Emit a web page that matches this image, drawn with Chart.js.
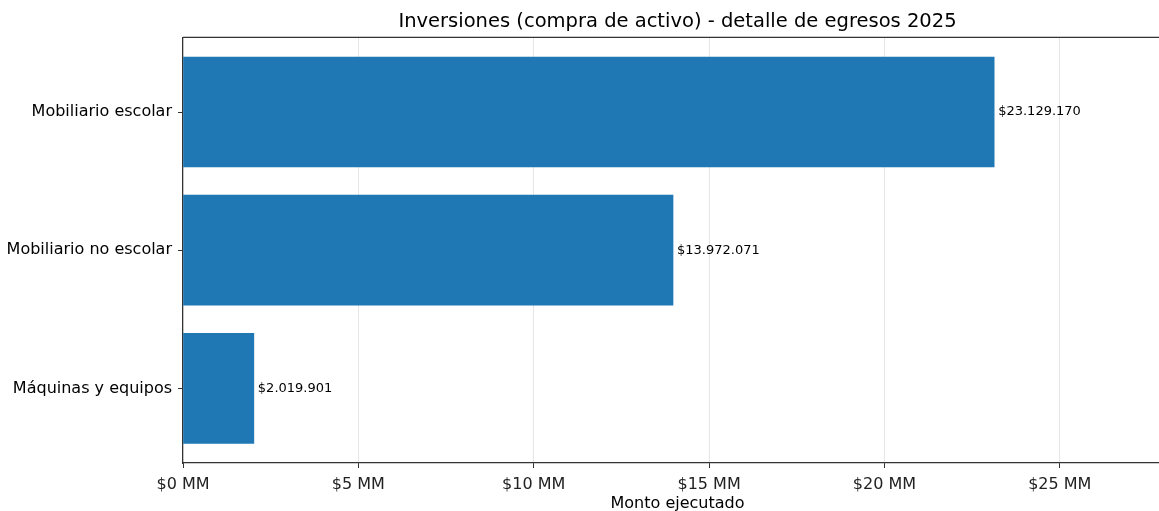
<!DOCTYPE html>
<html>
<head>
<meta charset="utf-8">
<script src="https://cdn.jsdelivr.net/npm/chart.js@4"></script>
<style>
  html, body { margin: 0; padding: 0; background: #fff; overflow: hidden; }
  #wrap { width: 1180px; height: 511px; position: relative; }
</style>
</head>
<body>
<div id="wrap"><canvas id="chart"></canvas></div>
<script>
const categories = ["Mobiliario escolar", "Mobiliario no escolar", "Máquinas y equipos"];
const amounts = [23129170, 13972071, 2019901];
const xTicks = [0, 5000000, 10000000, 15000000, 20000000, 25000000];

const FONT = "'DejaVu Sans', sans-serif";

// 23129170 -> $23.129.170
function money(v) {
  return "$" + String(v).replace(/\B(?=(\d{3})+(?!\d))/g, ".");
}

/* value labels next to each bar + top/right spine */
const extras = {
  id: "extras",
  afterDatasetsDraw(chart) {
    const c = chart.ctx;
    const meta = chart.getDatasetMeta(0);
    c.save();
    c.font = "13px " + FONT;
    c.fillStyle = "#000";
    c.textBaseline = "middle";
    c.textAlign = "left";
    meta.data.forEach((bar, i) => {
      c.fillText(money(amounts[i]), bar.x + 4, bar.y);
    });
    const a = chart.chartArea;
    c.strokeStyle = "#333";
    c.lineWidth = 1.2;
    c.beginPath();
    c.moveTo(a.left, a.top);
    c.lineTo(a.right, a.top);
    c.lineTo(a.right, a.bottom);
    c.stroke();
    c.restore();
  }
};

new Chart(document.getElementById("chart"), {
  type: "bar",
  data: {
    labels: categories,
    datasets: [{
      data: amounts,
      backgroundColor: "#1f77b4",
      borderWidth: 0,
      barThickness: 110
    }]
  },
  options: {
    indexAxis: "y",
    responsive: true,
    maintainAspectRatio: false,
    animation: false,
    layout: { padding: { left: 0, right: 8, top: 0, bottom: 0 } },
    plugins: {
      legend: { display: false },
      tooltip: { enabled: false },
      title: {
        display: true,
        fullSize: false,
        text: "Inversiones (compra de activo) - detalle de egresos 2025",
        color: "#000",
        font: { family: FONT, size: 19.5, weight: "normal" },
        padding: { top: 10, bottom: 4 }
      }
    },
    scales: {
      x: {
        type: "linear",
        min: 0,
        max: 28200000,
        afterBuildTicks(scale) {
          scale.ticks = xTicks.map(v => ({ value: v }));
        },
        afterFit(scale) { scale.height = 48; },
        ticks: {
          color: "#222",
          font: { family: FONT, size: 16 },
          padding: 7,
          maxRotation: 0,
          callback: v => "$" + (v / 1000000) + " MM"
        },
        grid: {
          color: "#e6e6e6",
          lineWidth: 1,
          tickColor: "#333",
          tickLength: 5
        },
        border: { color: "#333", width: 1.2 },
        title: {
          display: true,
          text: "Monto ejecutado",
          color: "#000",
          font: { family: FONT, size: 16 },
          padding: { top: 0, bottom: -2 }
        }
      },
      y: {
        type: "category",
        offset: true,
        // matplotlib-like margins: a bit more than half a slot at each end
        afterBuildTicks(scale) {
          scale._startValue = -0.54;
          scale._valueRange = categories.length - 1 + 1.08;
        },
        afterFit(scale) { scale.width = 183; },
        ticks: {
          color: "#000",
          font: { family: FONT, size: 16 },
          padding: 6
        },
        grid: {
          drawOnChartArea: false,
          offset: false,
          tickColor: "#333",
          tickLength: 5
        },
        border: { color: "#333", width: 1.2 }
      }
    }
  },
  plugins: [extras]
});
</script>
</body>
</html>
